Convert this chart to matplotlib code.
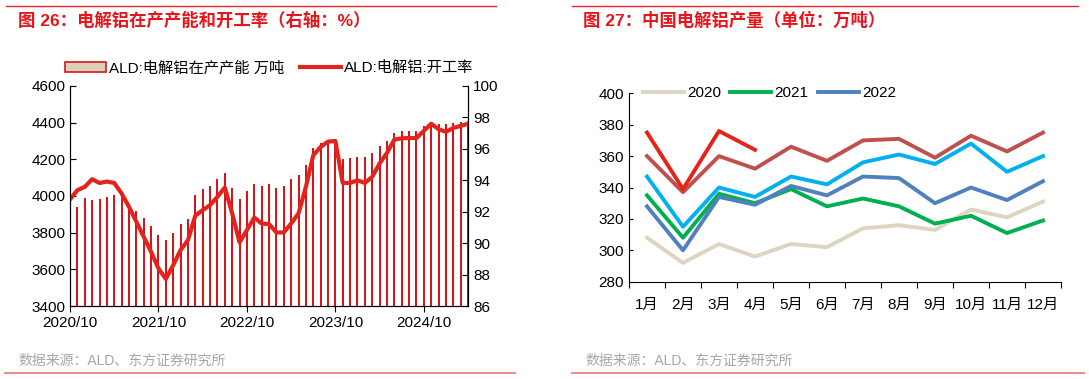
import numpy as np
import matplotlib.pyplot as plt
from matplotlib.lines import Line2D
from matplotlib.patches import Patch

plt.rcParams['font.family'] = ['Liberation Sans', 'Noto Sans CJK SC']
plt.rcParams['font.size'] = 11

# left panel: monthly data from 2020/10
capacity = [3905, 3939, 3987, 3979, 3983, 3994, 4003, 3992, 3959, 3917,
            3879, 3837, 3790, 3760, 3796, 3847, 3876, 4005, 4037, 4054,
            4092, 4123, 4043, 3983, 4026, 4068, 4057, 4066, 4046, 4054,
            4094, 4112, 4170, 4264, 4288, 4304, 4308, 4202, 4208, 4215,
            4215, 4233, 4272, 4302, 4344, 4353, 4355, 4355, 4380, 4398,
            4390, 4390, 4400, 4406, 4410]
util_rate = [92.78, 93.37, 93.58, 94.07, 93.83, 93.92, 93.83, 93.16, 92.31, 91.36,
             90.40, 89.45, 88.39, 87.72, 88.60, 89.56, 90.19, 91.75, 92.10, 92.42,
             92.95, 93.54, 91.89, 90.05, 90.83, 91.63, 91.25, 91.21, 90.68, 90.68,
             91.25, 91.89, 93.58, 95.59, 96.12, 96.46, 96.50, 93.83, 93.83, 94.00,
             93.83, 94.22, 95.07, 95.74, 96.59, 96.67, 96.69, 96.69, 97.14, 97.60,
             97.25, 97.08, 97.33, 97.46, 97.60]
date_ticks = ['2020/10', '2021/10', '2022/10', '2023/10', '2024/10']

# right panel: monthly output by year
months = ['1月', '2月', '3月', '4月', '5月', '6月', '7月', '8月', '9月', '10月', '11月', '12月']
out_2020 = [308, 292, 304, 296, 304, 302, 314, 316, 313, 326, 321, 331]
out_2021 = [335, 308, 336, 330, 339, 328, 333, 328, 317, 322, 311, 319]
out_2022 = [328, 300, 334, 329, 341, 335, 347, 346, 330, 340, 332, 344]
out_2023 = [347, 315, 340, 334, 347, 342, 356, 361, 355, 368, 350, 360]
out_2024 = [360, 337, 360, 352, 366, 357, 370, 371, 359, 373, 363, 375]
out_2025 = [375, 339, 376, 364]

red = '#e3231c'
bar_red = '#d4161b'
fig = plt.figure(figsize=(10.89, 3.79), dpi=100)

# ---- left chart
ax = fig.add_axes([0.0643, 0.1926, 0.3655, 0.5805])
x = np.arange(len(capacity))
ax.bar(x, np.array(capacity) - 3400, bottom=3400, width=0.27,
       color=bar_red, linewidth=0, antialiased=False)
ax.set_ylim(3400, 4600)
ax.set_yticks(np.arange(3400, 4601, 200))
ax.set_xlim(0, len(capacity) - 1)
ax.set_xticks([0, 12, 24, 36, 48])
ax.set_xticklabels(date_ticks)
ax.spines['top'].set_visible(False)
ax.tick_params(axis='y', direction='in', length=4, labelsize=11)
ax.tick_params(axis='x', direction='out', length=4, labelsize=11, pad=3)

ax2 = ax.twinx()
line, = ax2.plot(x, util_rate, color=red, linewidth=3)
ax2.set_ylim(86, 100)
ax2.set_yticks(np.arange(86, 101, 2))
ax2.spines['top'].set_visible(False)
ax2.tick_params(axis='y', direction='in', length=4, labelsize=11)

bar_handle = Patch(facecolor='#ddd0b8', edgecolor=bar_red, linewidth=1.2)
ax.legend([bar_handle, line], ['ALD:电解铝在产产能 万吨', 'ALD:电解铝:开工率'],
          loc='lower center', bbox_to_anchor=(0.5, 1.0),
          ncol=2, frameon=False, fontsize=11, handlelength=2.7,
          handletextpad=0.2, columnspacing=1.0, borderaxespad=0.3)

# ---- right chart
bx = fig.add_axes([0.5776, 0.2567, 0.3967, 0.4971])
mx = np.arange(len(months))
bx.plot(mx, out_2020, color='#ddd5c0', linewidth=2.8, label='2020')
bx.plot(mx, out_2021, color='#00b050', linewidth=2.8, label='2021')
bx.plot(mx, out_2022, color='#4f81bd', linewidth=2.8, label='2022')
bx.plot(mx, out_2023, color='#00b0f0', linewidth=2.8)
bx.plot(mx, out_2024, color='#c0504d', linewidth=2.8)
bx.plot(mx[:len(out_2025)], out_2025, color=red, linewidth=2.8)
bx.set_ylim(280, 400)
bx.set_yticks(np.arange(280, 401, 20))
bx.set_xlim(-0.5, len(months) - 0.5)
bx.set_xticks(np.arange(-0.5, len(months), 1))
bx.set_xticklabels([])
bx.set_xticks(mx, minor=True)
bx.set_xticklabels(months, minor=True)
bx.tick_params(axis='x', which='major', direction='out', length=4)
bx.tick_params(axis='x', which='minor', length=0, pad=12, labelsize=11)
bx.tick_params(axis='y', direction='in', length=3, labelsize=11)
bx.spines['top'].set_visible(False)
bx.spines['right'].set_visible(False)
bx.legend(loc='center left', bbox_to_anchor=(0.0, 1.0), ncol=3, frameon=False,
          fontsize=11, handlelength=2.7, handletextpad=0.2, columnspacing=0.6)

# ---- titles, sources, frame lines
fig.text(18 / 1089, 1 - 20 / 379, '图 26：电解铝在产产能和开工率（右轴：%）',
         color='#e8141b', fontsize=12.5, fontweight='bold', va='center')
fig.text(583 / 1089, 1 - 20 / 379, '图 27：中国电解铝产量（单位：万吨）',
         color='#e8141b', fontsize=12.5, fontweight='bold', va='center')
for sx in (18, 585):
    fig.text(sx / 1089, 1 - 361 / 379, '数据来源：ALD、东方证券研究所',
             color='#a6a6a6', fontsize=10, va='center')
for x0, x1 in ((6, 496), (572, 1078)):
    fig.add_artist(Line2D([x0 / 1089, x1 / 1089], [1 - 5.5 / 379] * 2,
                          color='#e8262b', linewidth=1))
for x0, x1 in ((5, 515), (572, 1084)):
    fig.add_artist(Line2D([x0 / 1089, x1 / 1089], [1 - 372.7 / 379] * 2,
                          color='#f08c8c', linewidth=1.5))

fig.savefig('out.png', dpi=100)
